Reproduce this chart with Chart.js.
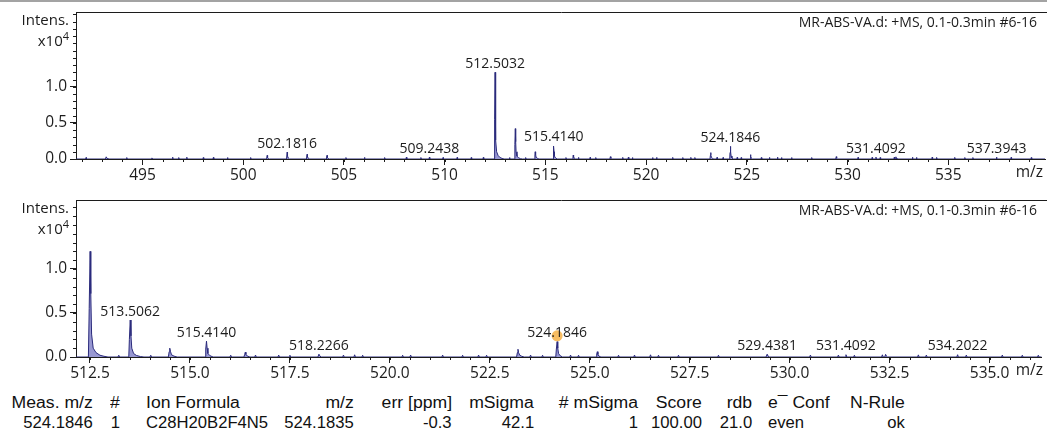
<!DOCTYPE html>
<html>
<head>
<meta charset="utf-8">
<script src="https://cdn.jsdelivr.net/npm/chart.js@4.4.1/dist/chart.umd.min.js"></script>
<style>
  html, body { margin: 0; padding: 0; background: #fff; }
  #page { position: relative; width: 1047px; height: 431px; overflow: hidden; background: #fff; }
  #topRule { position: absolute; left: 0; top: 0; width: 1047px; height: 2px; background: #a3a3a3; }
  .panel { position: absolute; left: 0; width: 1047px; }
  #panelA { top: 0; height: 190px; }
  #panelB { top: 188px; height: 200px; }
  .cell { position: absolute; font-family: 'Liberation Sans', Arial, sans-serif; font-size: 16px;
          line-height: 16px; color: #111; white-space: nowrap; }
</style>
</head>
<body>
<div id="page">
  <div id="topRule"></div>
  <div class="panel" id="panelA"><canvas id="chartA" width="1047" height="190"></canvas></div>
  <div class="panel" id="panelB"><canvas id="chartB" width="1047" height="200"></canvas></div>
  <div id="results"></div>
</div>
<script>
// Profile spectrum: [m/z, intensity in units of 10^4 counts]
const spectrum = [
  [491.5,0],
  [492.18,0],[492.2,0.02],[492.22,0],
  [493.16,0],[493.2,0.03],[493.24,0.01],[493.28,0],
  [494.2,0],[494.22,0.02],[494.24,0],
  [495.45,0],[495.47,0.015],[495.49,0],
  [496.48,0],[496.5,0.025],[496.52,0],
  [496.78,0],[496.8,0.02],[496.82,0],
  [497.18,0],[497.2,0.025],[497.22,0],
  [498.0,0],[498.02,0.02],[498.04,0],
  [498.5,0],[498.52,0.022],[498.54,0],
  [499.2,0],[499.22,0.02],[499.24,0],
  [500.35,0],[500.37,0.02],[500.39,0],
  [501.16,0],[501.19,0.05],[501.21,0.02],[501.26,0.005],[501.3,0],
  [502.15,0],[502.1816,0.095],[502.2,0.04],[502.24,0.012],[502.3,0],
  [503.14,0],[503.17,0.065],[503.19,0.03],[503.23,0.01],[503.3,0],
  [504.13,0],[504.16,0.05],[504.18,0.02],[504.22,0.006],[504.28,0],
  [505.08,0],[505.1,0.02],[505.12,0],
  [506.0,0],[506.02,0.022],[506.04,0],
  [507.0,0],[507.02,0.02],[507.04,0],
  [508.08,0],[508.1,0.025],[508.12,0],
  [508.8,0],[508.82,0.02],[508.84,0],
  [509.22,0],[509.2438,0.025],[509.26,0],
  [509.9,0],[509.92,0.02],[509.94,0],
  [510.6,0],[510.62,0.022],[510.64,0],
  [511.3,0],[511.32,0.02],[511.34,0],
  [511.9,0],[511.92,0.022],[511.94,0],
  [512.46,0],[512.48,0.55],[512.5032,1.2],[512.52,0.72],[512.54,0.26],[512.58,0.1],[512.65,0.05],[512.75,0.02],[512.85,0.008],[512.95,0],
  [513.2,0],[513.22,0.02],[513.24,0],
  [513.47,0],[513.485,0.2],[513.5062,0.42],[513.525,0.24],[513.545,0.1],[513.59,0.04],[513.66,0.018],[513.76,0.005],[513.85,0],
  [514.0,0],[514.02,0.02],[514.04,0],
  [514.46,0],[514.48,0.06],[514.495,0.1],[514.515,0.06],[514.54,0.025],[514.6,0.01],[514.68,0],
  [515.38,0],[515.395,0.09],[515.414,0.18],[515.43,0.1],[515.45,0.04],[515.5,0.015],[515.58,0],
  [516.0,0],[516.02,0.02],[516.04,0],
  [516.35,0],[516.37,0.03],[516.385,0.055],[516.4,0.03],[516.43,0.012],[516.5,0],
  [516.62,0],[516.64,0.022],[516.66,0],
  [517.2,0],[517.22,0.022],[517.24,0],
  [517.48,0],[517.5,0.02],[517.52,0],
  [518.2,0],[518.2266,0.032],[518.25,0.012],[518.28,0],
  [518.82,0],[518.84,0.022],[518.86,0],
  [519.1,0],[519.12,0.025],[519.14,0],
  [519.3,0],[519.32,0.02],[519.34,0],
  [520.3,0],[520.32,0.02],[520.34,0],
  [520.5,0],[520.52,0.022],[520.54,0],
  [521.3,0],[521.32,0.022],[521.34,0],
  [521.8,0],[521.82,0.02],[521.84,0],
  [522.2,0],[522.22,0.022],[522.24,0],
  [522.4,0],[522.42,0.02],[522.44,0],
  [523.17,0],[523.19,0.05],[523.205,0.088],[523.22,0.05],[523.25,0.02],[523.3,0.008],[523.36,0],
  [523.5,0],[523.52,0.022],[523.54,0],
  [523.8,0],[523.82,0.02],[523.84,0],
  [524.15,0],[524.165,0.09],[524.1846,0.175],[524.2,0.1],[524.22,0.04],[524.26,0.015],[524.32,0],
  [524.5,0],[524.52,0.022],[524.54,0],
  [524.7,0],[524.72,0.02],[524.74,0],
  [525.16,0],[525.175,0.035],[525.19,0.06],[525.205,0.03],[525.23,0.01],[525.28,0],
  [525.7,0],[525.72,0.02],[525.74,0],
  [526.1,0],[526.12,0.022],[526.14,0],
  [526.5,0],[526.52,0.025],[526.54,0],
  [526.7,0],[526.72,0.02],[526.74,0],
  [527.2,0],[527.22,0.02],[527.24,0],
  [528.2,0],[528.22,0.02],[528.24,0],
  [529.41,0],[529.4381,0.032],[529.46,0.01],[529.5,0],
  [530.5,0],[530.52,0.022],[530.54,0],
  [531.2,0],[531.22,0.022],[531.24,0],
  [531.39,0],[531.4092,0.026],[531.43,0],
  [531.6,0],[531.62,0.02],[531.64,0],
  [532.3,0],[532.32,0.025],[532.34,0],
  [532.38,0],[532.4,0.03],[532.42,0.01],[532.45,0],
  [533.2,0],[533.22,0.024],[533.24,0],
  [533.4,0],[533.42,0.022],[533.44,0],
  [534.18,0],[534.2022,0.026],[534.22,0],
  [534.4,0],[534.42,0.022],[534.44,0],
  [535.3,0],[535.32,0.022],[535.34,0],
  [535.8,0],[535.82,0.02],[535.84,0],
  [536.2,0],[536.22,0.02],[536.24,0],
  [537.37,0],[537.3943,0.026],[537.41,0],
  [538.1,0],[538.12,0.022],[538.14,0],
  [539.1,0],[539.12,0.02],[539.14,0],
  [540.0,0]
];

// Annotated peaks (m/z) in each panel
const overviewPeakLabels = [502.1816, 509.2438, 512.5032, 515.4140, 524.1846, 531.4092, 537.3943];
const zoomPeakLabels = [513.5062, 515.4140, 518.2266, 524.1846, 529.4381, 531.4092, 534.2022];

// Axis ticks
const overviewXTicks = [495, 500, 505, 510, 515, 520, 525, 530, 535];
const zoomXTicks = [512.5, 515.0, 517.5, 520.0, 522.5, 525.0, 527.5, 530.0, 532.5, 535.0];
const intensityTicks = [0.0, 0.5, 1.0];

// Assigned formula marker
const formulaMz = [524.1846];
const formulaIntensity = [0.24];

const spectrumTitle = 'MR-ABS-VA.d: +MS, 0.1-0.3min #6-16';

// Formula result table
const tableHeader = ['Meas. m/z', '#', 'Ion Formula', 'm/z', 'err [ppm]', 'mSigma', '# mSigma', 'Score', 'rdb', 'e\u00AF Conf', 'N-Rule'];
const tableRow = ['524.1846', '1', 'C28H20B2F4N5', '524.1835', '-0.3', '42.1', '1', '100.00', '21.0', 'even', 'ok'];

// ---- drawing ----
const FONT = "'Open Sans', 'Noto Sans', sans-serif";
const INK = '#1c1c1c';
Chart.defaults.font.family = FONT;
Chart.defaults.color = INK;

const panelDecor = {
  id: 'panelDecor',
  afterDraw(chart, args, o) {
    const { ctx, chartArea: a, scales: { x, y } } = chart;
    ctx.save();
    ctx.strokeStyle = INK;
    ctx.lineWidth = 1;
    // frame top edge
    ctx.beginPath();
    ctx.moveTo(a.left, Math.round(a.top) + 0.5);
    ctx.lineTo(chart.width, Math.round(a.top) + 0.5);
    ctx.stroke();
    // minor ticks
    ctx.beginPath();
    for (let k = Math.ceil(x.min / o.xMinor); k * o.xMinor <= x.max; k++) {
      const px = Math.round(x.getPixelForValue(k * o.xMinor)) + 0.5;
      ctx.moveTo(px, a.bottom);
      ctx.lineTo(px, a.bottom + 3);
    }
    for (let k = 0; k * 0.1 <= y.max; k++) {
      const py = Math.round(y.getPixelForValue(k * 0.1)) + 0.5;
      ctx.moveTo(a.left, py);
      ctx.lineTo(a.left - 3, py);
    }
    ctx.stroke();
    // axis captions
    ctx.fillStyle = INK;
    ctx.textBaseline = 'alphabetic';
    ctx.textAlign = 'right';
    ctx.font = '15px ' + FONT;
    ctx.fillText('Intens.', 69, a.top + 13);
    ctx.font = '11px ' + FONT;
    const w4 = ctx.measureText('4').width;
    ctx.fillText('4', 69, a.top + 28);
    ctx.font = '15px ' + FONT;
    ctx.fillText('x10', 69 - w4, a.top + 34);
    ctx.font = '15.5px ' + FONT;
    ctx.fillText('m/z', 1043, a.bottom + 18);
    ctx.font = '14px ' + FONT;
    ctx.fillText(spectrumTitle, 1037, a.top + 15);
    ctx.restore();
  },
  afterDatasetsDraw(chart, args, o) {
    const { ctx, scales: { x, y } } = chart;
    ctx.save();
    ctx.fillStyle = INK;
    ctx.font = '14px ' + FONT;
    ctx.textAlign = 'center';
    ctx.textBaseline = 'alphabetic';
    o.labels.forEach(mz => {
      let top = 0;
      spectrum.forEach(p => { if (Math.abs(p[0] - mz) < 0.03 && p[1] > top) top = p[1]; });
      ctx.fillText(mz.toFixed(4), x.getPixelForValue(mz), y.getPixelForValue(top) - 4.5);
    });
    ctx.restore();
  }
};

function makePanel(id, cfg) {
  const datasets = [{
    type: 'line',
    data: spectrum.map(p => ({ x: p[0], y: p[1] })),
    borderColor: '#2b2b7c',
    backgroundColor: 'rgba(122,122,196,0.78)',
    borderWidth: 1,
    pointRadius: 0,
    tension: 0,
    fill: 'origin',
    order: 2
  }];
  if (cfg.marker) {
    datasets.push({
      type: 'scatter',
      data: formulaMz.map((m, i) => ({ x: m, y: formulaIntensity[i] })),
      backgroundColor: 'rgba(246,178,72,0.85)',
      borderWidth: 0,
      pointRadius: 5.5,
      order: 1
    });
  }
  return new Chart(document.getElementById(id), {
    type: 'line',
    data: { datasets },
    options: {
      responsive: false,
      animation: false,
      events: [],
      layout: { padding: { top: cfg.padTop, right: 2, left: 0, bottom: 0 } },
      plugins: { legend: { display: false }, tooltip: { enabled: false },
                 panelDecor: { labels: cfg.labels, xMinor: cfg.xMinor } },
      scales: {
        x: {
          type: 'linear', min: cfg.xMin, max: cfg.xMax,
          afterBuildTicks: s => { s.ticks = cfg.xTicks.map(v => ({ value: v })); },
          afterFit: s => { s.height = cfg.xAxisHeight; },
          border: { display: true, color: INK, width: 1 },
          grid: { display: true, drawOnChartArea: false, drawTicks: true, tickLength: 6, color: INK },
          ticks: { autoSkip: false, maxRotation: 0, padding: 1, font: { size: 15.5 }, color: INK,
                   callback: v => cfg.xDecimals ? Number(v).toFixed(cfg.xDecimals) : String(v) }
        },
        y: {
          type: 'linear', min: 0, max: cfg.yMax,
          afterBuildTicks: s => { s.ticks = intensityTicks.map(v => ({ value: v })); },
          afterFit: s => { s.width = 76; },
          border: { display: true, color: INK, width: 1 },
          grid: { display: true, drawOnChartArea: false, drawTicks: true, tickLength: 6, color: INK },
          ticks: { padding: 3, font: { size: 15.5 }, color: INK, callback: v => Number(v).toFixed(1) }
        }
      }
    },
    plugins: [panelDecor]
  });
}

makePanel('chartA', { xMin: 491.7, xMax: 539.8, yMax: 2.03, xTicks: overviewXTicks, xMinor: 1,
  xDecimals: 0, labels: overviewPeakLabels, padTop: 10.5, xAxisHeight: 31, marker: false });
makePanel('chartB', { xMin: 512.15, xMax: 536.3, yMax: 1.78, xTicks: zoomXTicks, xMinor: 0.5,
  xDecimals: 1, labels: zoomPeakLabels, padTop: 10, xAxisHeight: 31, marker: true });

// Result table: column anchor x and alignment
const columnAnchors = [[93,'right'],[120,'right'],[146,'left'],[354,'right'],[452,'right'],[534,'right'],
                       [638,'right'],[702,'right'],[752,'right'],[768,'left'],[905,'right']];
const results = document.getElementById('results');
function addRow(cells, top, stretch) {
  cells.forEach((t, i) => {
    const [edge, align] = columnAnchors[i];
    const s = document.createElement('span');
    s.className = 'cell';
    s.textContent = t;
    s.style.top = top + 'px';
    if (align === 'right') { s.style.right = (1047 - edge) + 'px'; s.style.transformOrigin = 'right center'; }
    else { s.style.left = edge + 'px'; s.style.transformOrigin = 'left center'; }
    s.style.transform = 'scaleX(' + stretch + ')';
    results.appendChild(s);
  });
}
addRow(tableHeader, 394.5, 1.1);
addRow(tableRow, 414.5, 1.04);
</script>
</body>
</html>
